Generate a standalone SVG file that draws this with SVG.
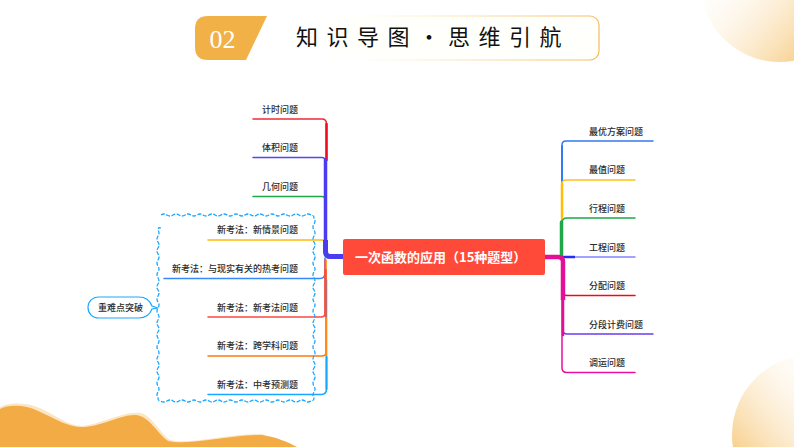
<svg xmlns="http://www.w3.org/2000/svg" width="794" height="447" viewBox="0 0 794 447">
<style>
.l{font-family:"Noto Sans CJK SC","Liberation Sans",sans-serif;font-size:9px;fill:#2b2b2b;font-weight:500}
.e{text-anchor:end}
.c{fill:none;stroke-width:1.5;stroke-linecap:round}
.v{fill:none;stroke-width:2.500;stroke-linecap:round}
.t{font-family:"Noto Sans CJK SC",sans-serif;font-size:22px;fill:#111;font-weight:400}
</style>
<defs>
<linearGradient id="g1" x1="1" y1="1" x2="0.15" y2="0.25"><stop offset="0" stop-color="#f2ac37"/><stop offset="1" stop-color="#fff" stop-opacity="0"/></linearGradient>
<linearGradient id="g2" x1="0" y1="1" x2="0.85" y2="0.25"><stop offset="0" stop-color="#f2ac37"/><stop offset="1" stop-color="#fff" stop-opacity="0"/></linearGradient>
<linearGradient id="g3" gradientUnits="userSpaceOnUse" x1="360" y1="0" x2="600" y2="0"><stop offset="0" stop-color="#f6c36f" stop-opacity="0"/><stop offset="1" stop-color="#f6bb5c"/></linearGradient>
</defs>
<rect width="794" height="447" fill="#fff"/>
<circle cx="780" cy="-18" r="80" fill="url(#g1)"/>
<circle cx="812" cy="435" r="80" fill="url(#g2)"/>
<path d="M0 407C8 402 28 402 42 409C62 419 68 425 82 426C100 425 122 411 140 413C152 415 158 431 170 440C190 445 230 433 262 434L297 447L0 447Z" fill="#fbe6c4"/>
<path d="M0 409C8 405 24 404 38 411C58 420 68 427 82 427C100 427 122 414 136 415C150 417 156 432 168 441C186 446 230 435 262 435C276 437 288 442 297 447L0 447Z" fill="#f2ab45"/>
<g id="badge"><path d="M208 16H267L246 60H208Q195 60 195 47V29Q195 16 208 16Z" fill="#f1b146"/>
<text x="222.500" y="48" text-anchor="middle" font-family="Liberation Serif,serif" font-size="26" fill="#fff">02</text></g>
<g id="title"><rect x="330" y="16" width="269" height="44" rx="9" fill="#fffffb" stroke="url(#g3)" stroke-width="1.200"/>
<text class="t" x="296 326.500 357 387.500 418 448 478.500 509 539.500" y="45">知识导图·思维引航</text></g>
<g id="connectors">
<path class="c" stroke="#ef2a38" d="M253 119H322Q326.500 119 326.500 124V160"/>
<path class="c" stroke="#5148f0" d="M253 157.500H322Q325 157.500 325 161V250"/>
<path class="c" stroke="#1ea84a" d="M253 196.500H322Q325 196.500 325 199"/>
<path class="c" stroke="#ffbc0a" d="M208 240H322Q325 240 325 243"/>
<path class="c" stroke="#3589f8" d="M164 278.500H320Q325 278.500 325 273V258"/>
<path class="c" stroke="#fb4a40" d="M208 317H321Q325 317 325 313V260"/>
<path class="c" stroke="#ff7a0a" d="M208 356H322Q326 356 326 352V260"/>
<path class="c" stroke="#18a5ff" d="M208 394.500H321Q326.500 394.500 326.500 389V280"/>
<path class="v" stroke="#ef0a1e" d="M326.500 124V160"/>
<path class="v" stroke="#4a3cf0" style="stroke-width:3.500" d="M325.500 160V253"/>
<path class="v" stroke="#f2553c" d="M325.500 270V316"/>
<path class="v" stroke="#ff8a14" style="stroke-width:2" d="M326 318V355"/>
<path class="v" stroke="#18a5ff" style="stroke-width:2" d="M326.500 357V389"/>
<path fill="none" stroke="#4a3cf0" stroke-width="5" d="M343 256.500H330Q325.500 256.500 325.500 251V240"/>
<path class="c" stroke="#3478f0" d="M653 141H566Q562 141 562 145V250"/>
<path class="c" stroke="#ffc21a" d="M635 180H566Q562 180 562 184V250"/>
<path class="c" stroke="#1ea84a" d="M635 218H567Q562 218 562 223V250"/>
<path class="c" stroke="#8484ff" d="M635 257H562"/>
<path class="c" stroke="#f00a14" d="M635 295.500H567Q563 295.500 563 292V265"/>
<path class="c" stroke="#6a3ef0" d="M653 334H567Q563 334 563 330V265"/>
<path class="c" stroke="#e8109a" d="M635 372.500H567Q562 372.500 562 368V265"/>
<path class="v" stroke="#2f7bf0" style="stroke-width:2" d="M562 146V180"/>
<path class="v" stroke="#ffbe0a" d="M562 184V218"/>
<path class="v" stroke="#1ea84a" style="stroke-width:3.500" d="M561.500 222V255"/>
<path fill="none" stroke="#2a2af5" stroke-width="2.500" d="M562 257H575"/>
<path fill="none" stroke="#e30f96" stroke-width="4.500" d="M545 257H558Q563 257 563 262V300"/>
<path class="v" stroke="#e30f96" d="M563 300V335"/>
</g>
<g id="root"><rect x="343" y="239" width="202" height="36" rx="2" fill="#ff4a3a"/>
<text x="355" y="262" font-family="Noto Sans CJK SC,sans-serif" font-size="13" font-weight="700" fill="#fff">一次函数的应用（15种题型）</text></g>
<g id="left">
<text class="l e" x="298" y="112.500">计时问题</text>
<text class="l e" x="298" y="151">体积问题</text>
<text class="l e" x="298" y="190">几何问题</text>
<text class="l e" x="298" y="233">新考法：新情景问题</text>
<text class="l e" x="298" y="272">新考法：与现实有关的热考问题</text>
<text class="l e" x="298" y="310.500">新考法：新考法问题</text>
<text class="l e" x="298" y="349">新考法：跨学科问题</text>
<text class="l e" x="298" y="388">新考法：中考预测题</text>
</g>
<g id="right">
<text class="l" x="589" y="135">最优方案问题</text>
<text class="l" x="589" y="173">最值问题</text>
<text class="l" x="589" y="212">行程问题</text>
<text class="l" x="589" y="250.500">工程问题</text>
<text class="l" x="589" y="289">分配问题</text>
<text class="l" x="589" y="327.500">分段计费问题</text>
<text class="l" x="589" y="366">调运问题</text>
</g>
<g id="summary-box"><path fill="none" stroke="#1aa7ff" stroke-width="1.300" stroke-dasharray="4 1.500" d="M161 215q3 -2 6 0t6 0 6 0 6 0 6 0 6 0 6 0 6 0 6 0 6 0 6 0 6 0 6 0 6 0 6 0 6 0 6 0 6 0 6 0 6 0 6 0 6 0 6 0 6 0 6 0q3 0 3 3q2 3 0 6t0 6 0 6 0 6 0 6 0 6 0 6 0 6 0 6 0 6 0 6 0 6 0 6 0 6 0 6 0 6 0 6 0 6 0 6 0 6 0 6 0 6 0 6 0 6 0 6 0 6 0 6 0 6 0 6 0 6q0 3 -3 3q-3 2 -6 0t-6 0 -6 0 -6 0 -6 0 -6 0 -6 0 -6 0 -6 0 -6 0 -6 0 -6 0 -6 0 -6 0 -6 0 -6 0 -6 0 -6 0 -6 0 -6 0 -6 0 -6 0 -6 0 -6 0 -7 0q-2 0 -2 -3q-2 -3 0 -6t0 -6 0 -6 0 -6 0 -6 0 -6 0 -6 0 -6 0 -6 0 -6 0 -6 0 -6 0 -6 0 -6 0 -6 0 -6 0 -6 0 -6 0 -6 0 -6 0 -6 0 -6 0 -6 0 -6 0 -6 0 -6 0 -6 0 -6q0 -3 3 -2"/></g>
<g id="callout"><path d="M99 297H139C146 297 150 301 152 306L158 308L152 309C150 314 146 318 139 318H99C92 318 88 313 88 307.500C88 302 92 297 99 297Z" fill="#fff" stroke="#1aa7ff" stroke-width="1.200"/>
<text class="l" x="120.500" y="311" text-anchor="middle">重难点突破</text></g>
</svg>
